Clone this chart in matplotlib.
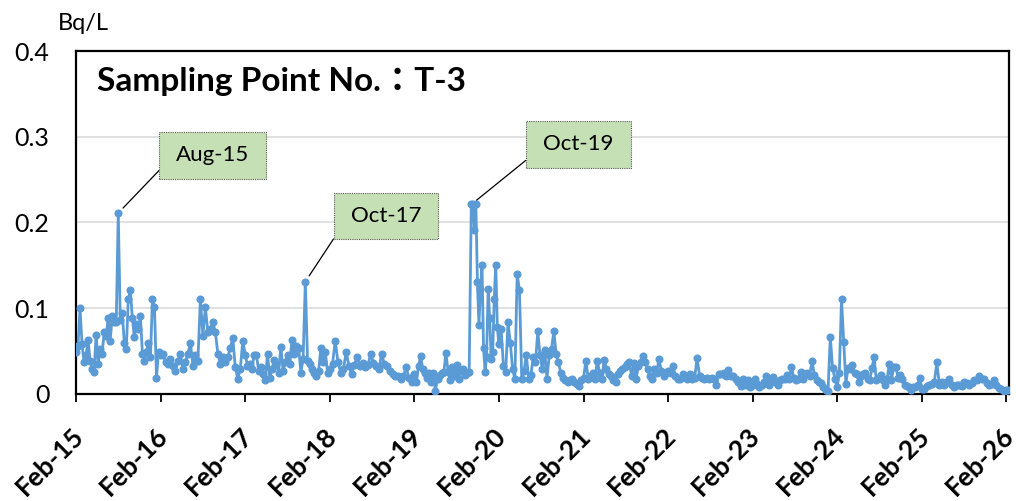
"""Tritium trend at sampling point T-3, Feb 2015 - Feb 2026."""

import matplotlib

matplotlib.use("Agg")
import matplotlib.dates as mdates
import matplotlib.pyplot as plt
import numpy as np
import pandas as pd
from matplotlib.patches import FancyBboxPatch
from matplotlib.transforms import ScaledTranslation

# Each segment holds the readings taken between its start date and the next one.
SEGMENT_STARTS = [
    "2015-02-01", "2016-02-01", "2017-02-01", "2018-02-01", "2019-02-01",
    "2019-10-05", "2020-02-01", "2021-02-01", "2022-02-01", "2023-02-01",
    "2024-02-01", "2025-02-01", "2026-02-01", "2026-02-14",
]

BQ_2015 = [0.049, 0.056, 0.100, 0.058, 0.037, 0.045, 0.063, 0.039, 0.029, 0.026,
           0.069, 0.035, 0.052, 0.047, 0.072, 0.068, 0.089, 0.062, 0.091, 0.084,
           0.084, 0.211, 0.086, 0.095, 0.060, 0.053, 0.111, 0.121, 0.089, 0.066,
           0.082, 0.076, 0.091, 0.047, 0.039, 0.049, 0.060, 0.043, 0.111, 0.101,
           0.019, 0.049]
BQ_2016 = [0.045, 0.047, 0.037, 0.035, 0.041, 0.033, 0.027, 0.039, 0.047, 0.029,
           0.037, 0.047, 0.060, 0.033, 0.045, 0.039, 0.111, 0.068, 0.101, 0.072,
           0.076, 0.084, 0.072, 0.047, 0.035, 0.043, 0.037, 0.043, 0.054, 0.065,
           0.031, 0.018, 0.029, 0.062]
BQ_2017 = [0.046, 0.033, 0.035, 0.029, 0.046, 0.046, 0.027, 0.031, 0.023, 0.016,
           0.047, 0.019, 0.029, 0.040, 0.035, 0.025, 0.055, 0.027, 0.037, 0.046,
           0.035, 0.063, 0.047, 0.056, 0.054, 0.025, 0.041, 0.131, 0.039, 0.035,
           0.029, 0.025, 0.021, 0.027, 0.054, 0.037, 0.049, 0.025]
BQ_2018 = [0.029, 0.035, 0.062, 0.037, 0.025, 0.029, 0.049, 0.033, 0.023, 0.034,
           0.043, 0.033, 0.036, 0.031, 0.034, 0.047, 0.036, 0.033, 0.029, 0.047,
           0.035, 0.033, 0.027, 0.023, 0.021, 0.021, 0.018, 0.021, 0.031, 0.019,
           0.014]
BQ_2019_A = [0.023, 0.014, 0.033, 0.044, 0.029, 0.025, 0.019, 0.025, 0.014, 0.025,
             0.004, 0.018, 0.022, 0.025, 0.026, 0.048, 0.026, 0.016, 0.031, 0.021,
             0.034, 0.018, 0.027, 0.029, 0.022, 0.025, 0.026]
BQ_2019_B = [0.221, 0.221, 0.191, 0.221, 0.131, 0.080, 0.123, 0.151, 0.054, 0.026,
             0.043, 0.122, 0.089, 0.041, 0.049, 0.111, 0.151, 0.078]
BQ_2020 = [0.058, 0.076, 0.033, 0.026, 0.084, 0.060, 0.029, 0.018, 0.140, 0.121,
           0.018, 0.027, 0.046, 0.018, 0.022, 0.043, 0.037, 0.073, 0.045, 0.029,
           0.051, 0.018, 0.045, 0.053, 0.073, 0.047, 0.037, 0.025, 0.019, 0.016,
           0.014, 0.016, 0.018, 0.014, 0.012, 0.009, 0.016]
BQ_2021 = [0.019, 0.039, 0.018, 0.021, 0.025, 0.018, 0.039, 0.025, 0.018, 0.040,
           0.029, 0.023, 0.021, 0.016, 0.014, 0.023, 0.027, 0.029, 0.032, 0.035,
           0.037, 0.021, 0.036, 0.018, 0.033, 0.037, 0.044, 0.037, 0.029, 0.021,
           0.018, 0.029, 0.025, 0.041, 0.027, 0.021, 0.025]
BQ_2022 = [0.027, 0.025, 0.033, 0.021, 0.018, 0.018, 0.023, 0.021, 0.018, 0.023,
           0.018, 0.019, 0.042, 0.021, 0.019, 0.018, 0.019, 0.018, 0.019, 0.017,
           0.010, 0.023, 0.023, 0.025, 0.021, 0.028, 0.021, 0.021, 0.018, 0.014,
           0.009, 0.018, 0.010, 0.016, 0.008]
BQ_2023 = [0.011, 0.017, 0.012, 0.008, 0.011, 0.014, 0.021, 0.011, 0.016, 0.020,
           0.014, 0.011, 0.016, 0.017, 0.018, 0.022, 0.018, 0.031, 0.019, 0.016,
           0.018, 0.026, 0.018, 0.023, 0.025, 0.021, 0.039, 0.022, 0.016, 0.014,
           0.013, 0.008, 0.005, 0.004, 0.067, 0.030, 0.018]
BQ_2024 = [0.008, 0.025, 0.111, 0.061, 0.012, 0.030, 0.029, 0.034, 0.025, 0.023,
           0.014, 0.021, 0.023, 0.025, 0.018, 0.016, 0.030, 0.043, 0.016, 0.019,
           0.022, 0.016, 0.011, 0.018, 0.035, 0.016, 0.032, 0.032, 0.019, 0.022,
           0.018, 0.011, 0.009, 0.008, 0.005, 0.008, 0.008, 0.010, 0.019]
BQ_2025 = [0.006, 0.006, 0.009, 0.010, 0.012, 0.014, 0.037, 0.011, 0.014, 0.010,
           0.014, 0.018, 0.011, 0.008, 0.010, 0.011, 0.009, 0.014, 0.013, 0.011,
           0.013, 0.016, 0.016, 0.021, 0.018, 0.018, 0.013, 0.011, 0.012, 0.016,
           0.010, 0.007, 0.006, 0.003]
BQ_2026 = [0.005, 0.005]

SEGMENTS = [BQ_2015, BQ_2016, BQ_2017, BQ_2018, BQ_2019_A, BQ_2019_B, BQ_2020,
            BQ_2021, BQ_2022, BQ_2023, BQ_2024, BQ_2025, BQ_2026]

# label, segment holding the peak, box (x0, y0, w, h) in axes fraction, leader start height
CALLOUTS = [
    ("Aug-15", 0, (0.089, 0.627, 0.115, 0.137), 0.18),
    ("Oct-17", 2, (0.276, 0.452, 0.112, 0.134), 0.0),
    ("Oct-19", 5, (0.482, 0.659, 0.113, 0.137), 0.16),
]

LINE_COLOR = "#5B9BD5"
FONT = ["Lato", "Noto Sans CJK JP", "DejaVu Sans"]


def build_series():
    starts = pd.to_datetime(SEGMENT_STARTS)
    dates, values = [], []
    for i, seg in enumerate(SEGMENTS):
        span = starts[i + 1] - starts[i]
        for k, v in enumerate(seg):
            dates.append(starts[i] + span * k / len(seg))
            values.append(v)
    return pd.DatetimeIndex(dates), np.array(values)


def main():
    plt.rcParams["font.family"] = FONT
    dates, values = build_series()

    fig = plt.figure(figsize=(10.16, 5.01), dpi=100)
    ax = fig.add_axes([0.0748, 0.2136, 0.9183, 0.6846])

    ax.plot(dates, values, color=LINE_COLOR, lw=2.0, marker="o", ms=4.8,
            mec=LINE_COLOR, mfc=LINE_COLOR, zorder=3)

    ax.set_ylim(0, 0.4)
    ax.set_yticks([0, 0.1, 0.2, 0.3, 0.4])
    ax.set_yticklabels(["0", "0.1", "0.2", "0.3", "0.4"])
    ax.set_xlim(pd.Timestamp("2015-02-01"), pd.Timestamp("2026-02-12"))
    ax.xaxis.set_major_locator(mdates.MonthLocator(bymonth=2))
    ax.xaxis.set_major_formatter(mdates.DateFormatter("%b-%y"))

    ax.grid(axis="y", color="#D9D9D9", lw=1.1)
    ax.set_axisbelow(True)
    for side in ("left", "right", "top", "bottom"):
        ax.spines[side].set_color("black")
        ax.spines[side].set_linewidth(1.6)

    ax.tick_params(axis="y", length=0, pad=19, labelsize=18)
    ax.tick_params(axis="x", direction="out", length=6, width=1.3, pad=15, labelsize=19)
    shift = ScaledTranslation(-5 / 100, 0, fig.dpi_scale_trans)
    for lab in ax.get_xticklabels():
        lab.set_rotation(45)
        lab.set_ha("right")
        lab.set_va("top")
        lab.set_rotation_mode("anchor")
        lab.set_fontweight("bold")
        lab.set_transform(lab.get_transform() + shift)

    fig.text(58 / 1016, 1 - 30 / 501, "Bq/L", fontsize=17, ha="left", va="baseline")
    ax.text(0.0225, 0.883, "Sampling Point No.：T-3", transform=ax.transAxes,
            fontsize=24, fontweight="bold", ha="left", va="baseline")

    starts = pd.to_datetime(SEGMENT_STARTS)
    for label, seg_idx, (x0, y0, w, h), rel in CALLOUTS:
        seg = SEGMENTS[seg_idx]
        k = int(np.argmax(seg))
        span = starts[seg_idx + 1] - starts[seg_idx]
        peak_date = starts[seg_idx] + span * k / len(seg)
        box = FancyBboxPatch((x0, y0), w, h, boxstyle="square,pad=0",
                             transform=ax.transAxes, facecolor="#C5E0B4",
                             edgecolor="#595959", lw=0.8, ls=(0, (1, 1)), zorder=5)
        ax.add_patch(box)
        ax.text(x0 + w / 2, y0 + h / 2, label, transform=ax.transAxes,
                fontsize=16, ha="center", va="center", zorder=6)
        ax.annotate("", xy=(mdates.date2num(peak_date), seg[k]),
                    xytext=(x0, y0 + rel * h), textcoords="axes fraction",
                    arrowprops=dict(arrowstyle="-", color="black", lw=0.9,
                                    shrinkA=0, shrinkB=5), zorder=4)

    fig.savefig("out.png", dpi=100)
    plt.close(fig)


if __name__ == "__main__":
    main()
